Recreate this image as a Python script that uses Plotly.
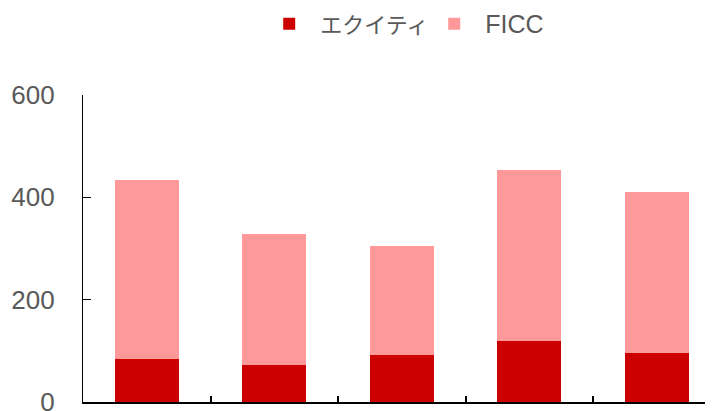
import plotly.graph_objects as go

categories = [0, 1, 2, 3, 4]
equity = [84, 72, 92, 119, 96]
ficc = [350, 257, 213, 334, 314]
series_names = ["エクイティ", "FICC"]
y_ticks = [0, 200, 400, 600]

FONT = "Liberation Sans, Arial, Noto Sans CJK JP, sans-serif"
GRAY = "#595959"

fig = go.Figure()
fig.add_trace(go.Bar(x=categories, y=equity,
                     name='<span style="font-size:22px">' + series_names[0] + '</span>',
                     marker=dict(color="#CC0000", line=dict(width=0)), width=0.5))
fig.add_trace(go.Bar(x=categories, y=ficc, name=series_names[1],
                     marker=dict(color="#FF9999", line=dict(width=0)), width=0.5))

fig.update_layout(
    width=705, height=403,
    barmode="stack",
    plot_bgcolor="white", paper_bgcolor="white",
    margin=dict(l=75, r=0, t=87, b=9, autoexpand=False),
    font=dict(family=FONT, color=GRAY, size=22),
    showlegend=True,
    legend=dict(orientation="h", x=0.54, xanchor="center", y=1.2313, yanchor="middle",
                font=dict(size=25, color=GRAY), traceorder="normal",
                itemwidth=52, entrywidth=98, entrywidthmode="pixels"),
    xaxis=dict(range=[-0.5, 4.44], tickvals=[0.5, 1.5, 2.5, 3.5], showticklabels=False,
               ticks="inside", ticklen=6, tickcolor="black", tickwidth=1.5,
               showline=True, linecolor="black", linewidth=2, showgrid=False,
               zeroline=False),
    yaxis=dict(range=[0, 600], tickvals=y_ticks, ticks="inside", ticklen=8,
               tickcolor="black", tickwidth=1.2, showline=True, linecolor="black",
               linewidth=1.2, showgrid=False, zeroline=False,
               tickfont=dict(size=26, color=GRAY), ticklabelstandoff=22,
               ticklabeloverflow="allow"),
)

fig.write_html("out.html")
